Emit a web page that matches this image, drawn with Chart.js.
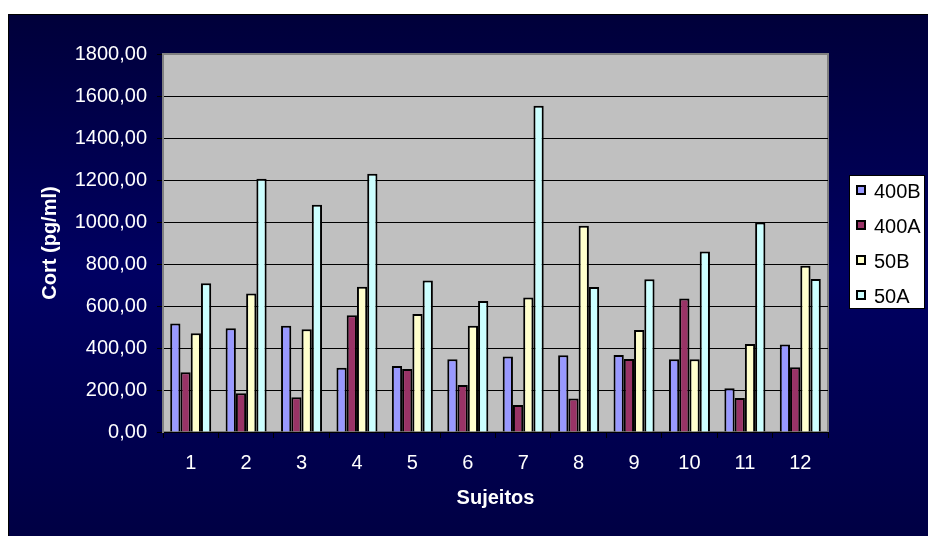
<!DOCTYPE html>
<html>
<head>
<meta charset="utf-8">
<title>Cort (pg/ml) por sujeito</title>
<script src="https://cdn.jsdelivr.net/npm/chart.js@4/dist/chart.umd.min.js"></script>
<style>
  html, body { margin: 0; padding: 0; background: #ffffff; }
  #wrap { width: 928px; height: 536px; }
</style>
</head>
<body>
<div id="wrap"><canvas id="c" width="928" height="536"></canvas></div>
<script>
// Subjects on the x axis
const subjects = ['1', '2', '3', '4', '5', '6', '7', '8', '9', '10', '11', '12'];

// Cortisol (pg/ml) per condition
const cort400B = [517, 494, 506, 306, 314, 346, 359, 365, 367, 346, 208, 417];
const cort400A = [284, 184, 165, 556, 300, 224, 129, 160, 348, 636, 162, 308];
const cort50B  = [470, 660, 489, 692, 562, 506, 641, 982, 486, 346, 419, 792];
const cort50A  = [708, 1206, 1082, 1230, 722, 624, 1554, 690, 727, 859, 998, 729];

// Y axis range
const yMin = 0;
const yMax = 1800;
const yStep = 200;

const seriesNames = ['400B', '400A', '50B', '50A'];
const seriesColors = ['#9999FF', '#993366', '#FFFFCC', '#CCFFFF'];
const seriesValues = [cort400B, cort400A, cort50B, cort50A];

const FONT = "'Liberation Sans', Arial, sans-serif";

// Page frame, navy backdrop and grey plot area
const backdrop = {
  id: 'backdrop',
  beforeDraw(chart) {
    const ctx = chart.ctx;
    const W = chart.width, H = chart.height;
    const a = chart.chartArea;
    ctx.save();
    ctx.fillStyle = '#ffffff';
    ctx.fillRect(0, 0, W, H);
    const g = ctx.createLinearGradient(0, 14, 0, H);
    g.addColorStop(0, '#00003a');
    g.addColorStop(0.5, '#000062');
    g.addColorStop(1, '#000044');
    ctx.fillStyle = g;
    ctx.fillRect(8, 14, W - 8, H - 14);
    ctx.strokeStyle = '#000000';
    ctx.lineWidth = 1;
    ctx.beginPath();
    ctx.moveTo(8.5, H);
    ctx.lineTo(8.5, 14.5);
    ctx.lineTo(W, 14.5);
    ctx.stroke();
    ctx.fillStyle = '#C0C0C0';
    ctx.fillRect(a.left, a.top, a.right - a.left, a.bottom - a.top);
    ctx.strokeStyle = '#808080';
    ctx.lineWidth = 2;
    ctx.strokeRect(a.left, a.top, a.right - a.left, a.bottom - a.top);
    ctx.restore();
  }
};

// Boxed legend on the right
const boxLegend = {
  id: 'boxLegend',
  afterDraw(chart) {
    const ctx = chart.ctx;
    const x0 = 849, y0 = 175, w = 76, h = 134;
    ctx.save();
    ctx.fillStyle = '#ffffff';
    ctx.fillRect(x0, y0, w, h);
    ctx.strokeStyle = '#000000';
    ctx.lineWidth = 1;
    ctx.strokeRect(x0 + 0.5, y0 + 0.5, w - 1, h - 1);
    chart.data.datasets.forEach((ds, i) => {
      const cy = 192 + i * 35;
      ctx.fillStyle = ds.backgroundColor;
      ctx.fillRect(856, cy - 7, 10, 10);
      ctx.strokeStyle = '#000000';
      ctx.lineWidth = 2;
      ctx.strokeRect(857, cy - 6, 8, 8);
      ctx.fillStyle = '#000000';
      ctx.font = '20px ' + FONT;
      ctx.textAlign = 'left';
      ctx.textBaseline = 'middle';
      ctx.fillText(ds.label, 874, cy);
    });
    ctx.restore();
  }
};

new Chart(document.getElementById('c'), {
  type: 'bar',
  data: {
    labels: subjects,
    datasets: seriesNames.map((name, i) => ({
      label: name,
      data: seriesValues[i],
      backgroundColor: seriesColors[i],
      borderColor: '#000000',
      borderWidth: 2,
      categoryPercentage: 0.74,
      barPercentage: 1.0
    }))
  },
  options: {
    responsive: false,
    animation: false,
    devicePixelRatio: 1,
    layout: { padding: { top: 54, right: 100, bottom: 0, left: 0 } },
    plugins: {
      legend: { display: false },
      tooltip: { enabled: false }
    },
    scales: {
      x: {
        afterFit(scale) { scale.height = 104; },
        grid: {
          offset: true,
          drawOnChartArea: false,
          drawTicks: true,
          tickLength: 6,
          tickColor: '#000000'
        },
        border: { display: true, color: '#000000', width: 1 },
        ticks: {
          color: '#ffffff',
          font: { family: FONT, size: 20 },
          padding: 13,
          maxRotation: 0
        },
        title: {
          display: true,
          text: 'Sujeitos',
          color: '#ffffff',
          font: { family: FONT, size: 20, weight: 'bold' },
          padding: { top: 0, bottom: 26 }
        }
      },
      y: {
        min: yMin,
        max: yMax,
        afterFit(scale) { scale.width = 163; },
        grid: {
          color: (c) => (c.tick && c.tick.value === yMax ? '#808080' : '#000000'),
          lineWidth: 1,
          drawTicks: true,
          tickLength: 6,
          tickColor: '#000000'
        },
        border: { display: true, color: '#808080', width: 2 },
        ticks: {
          stepSize: yStep,
          color: '#ffffff',
          font: { family: FONT, size: 20 },
          padding: 10,
          callback: (v) => Number(v).toFixed(2).replace('.', ',')
        },
        title: {
          display: true,
          text: 'Cort (pg/ml)',
          color: '#ffffff',
          font: { family: FONT, size: 20, weight: 'bold' },
          padding: { top: 38, bottom: 0 }
        }
      }
    }
  },
  plugins: [backdrop, boxLegend]
});
</script>
</body>
</html>
